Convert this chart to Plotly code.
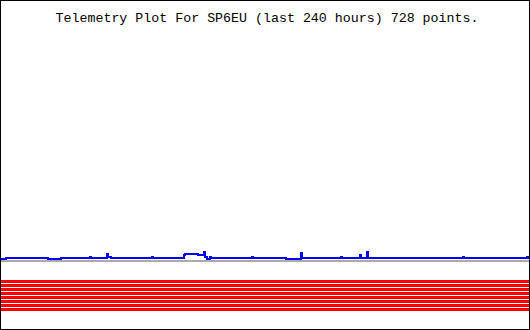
import plotly.graph_objects as go

# ---- data (hours relative to now, telemetry values) ----
title_text = "Telemetry Plot For SP6EU (last 240 hours) 728 points."

# analog channel 1 (blue) : change points of a stepped series
blue_hours = [-240.0, -237.73, -218.64, -212.73, -199.55, -199.09, -191.82, -191.36,
              -190.0, -171.36, -170.91, -156.82, -156.36, -150.45, -147.73, -147.27,
              -146.36, -145.0, -144.55, -125.91, -125.45, -110.45, -103.64, -103.18,
              -85.45, -85.0, -76.82, -76.36, -73.64, -73.18, -30.0, -29.55,
              -0.91, -0.45, 0.0]
blue_values = [71, 72, 71, 72, 73, 72, 76, 73,
               72, 73, 72, 75, 76, 75, 78, 73,
               71, 73, 72, 73, 72, 71, 77, 72,
               73, 72, 75, 72, 78, 72, 73, 72,
               73, 72, 72]

# analog channel 2 (grey): flat
grey_hours = [-240.0, 0.0]
grey_values = [69, 69]

# digital bits (red), one level per bit
bit_levels = [48.5, 44.5, 40.5, 36.5, 32.5, 28.5, 24.5, 20.5]

x_range = [-240, 0]
y_range = [1, 329]

fig = go.Figure()

for lvl in bit_levels:
    fig.add_trace(go.Scatter(x=[x_range[0], x_range[1]], y=[lvl, lvl], mode="lines",
                             line=dict(color="#ff0000", width=3), hoverinfo="skip"))

fig.add_trace(go.Scatter(x=grey_hours, y=grey_values, mode="lines",
                         line=dict(color="#aaaaaa", width=2), hoverinfo="skip"))

fig.add_trace(go.Scatter(x=blue_hours, y=blue_values, mode="lines", line_shape="hv",
                         line=dict(color="#0000ff", width=2), hoverinfo="skip"))

fig.update_layout(
    width=530, height=330,
    margin=dict(l=1, r=1, t=1, b=1),
    paper_bgcolor="#000000",
    plot_bgcolor="#ffffff",
    showlegend=False,
    title=dict(text=title_text, x=267 / 530, xanchor="center",
               y=1 - 17.5 / 330, yanchor="middle",
               font=dict(family="Liberation Mono", size=13.3, color="#000000")),
    xaxis=dict(range=x_range, visible=False, showgrid=False, zeroline=False, fixedrange=True),
    yaxis=dict(range=y_range, visible=False, showgrid=False, zeroline=False, fixedrange=True),
)

fig.write_html("out.html", config={"displayModeBar": False})
